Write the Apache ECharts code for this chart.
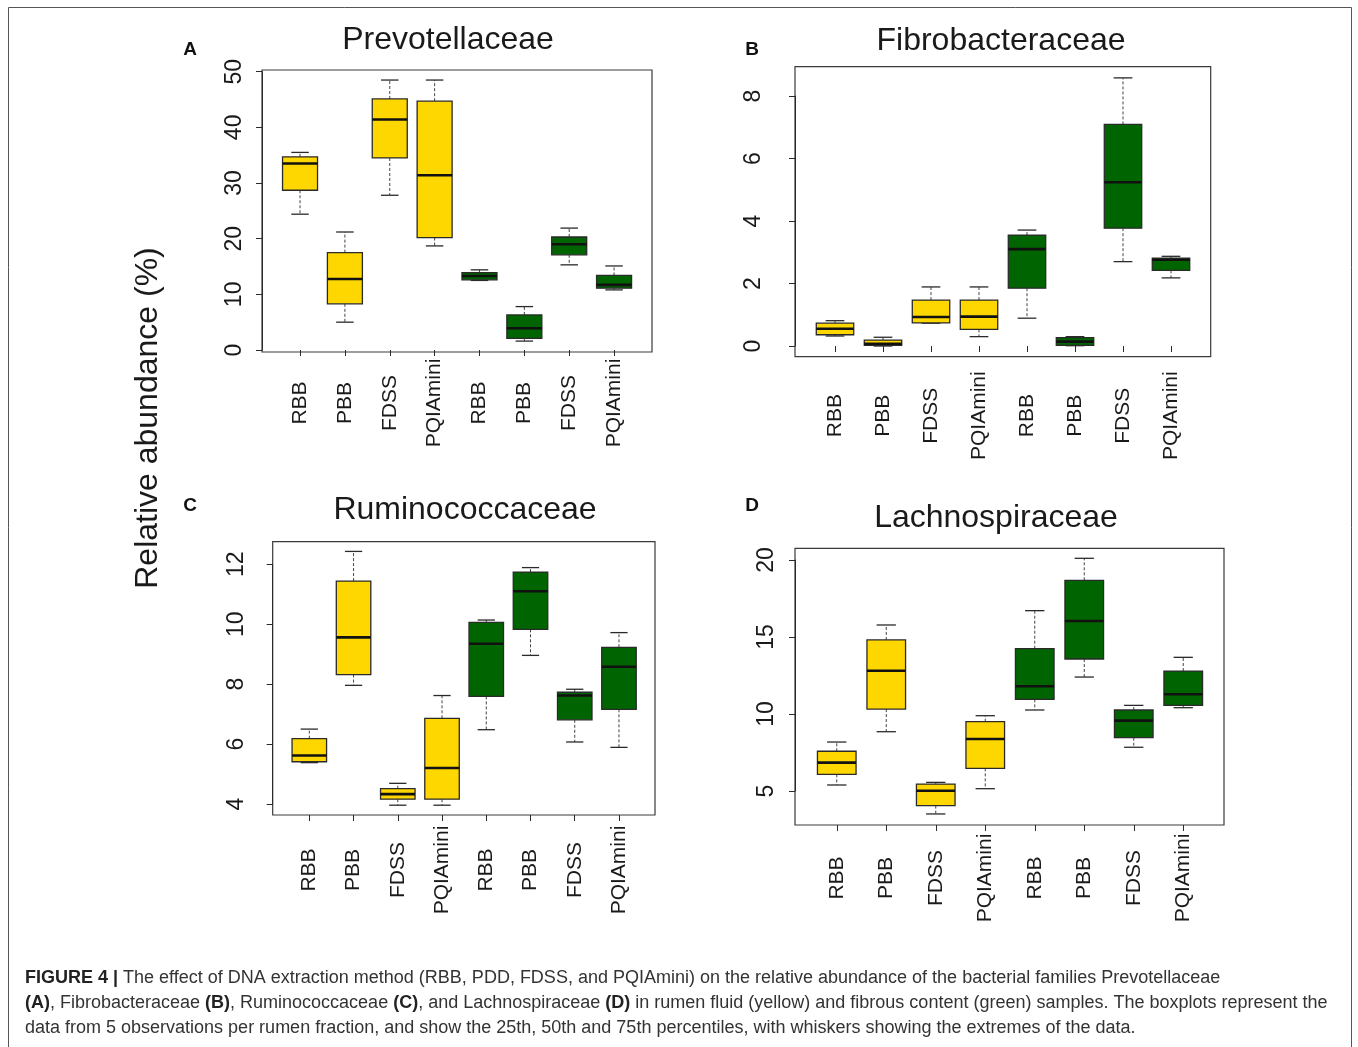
<!DOCTYPE html>
<html>
<head>
<meta charset="utf-8">
<title>Figure 4</title>
<script src="https://cdn.jsdelivr.net/npm/echarts@6/dist/echarts.min.js"></script>
<style>
  html, body { margin: 0; padding: 0; background: #fff; }
  #chart { width: 1358px; height: 1047px; }
</style>
</head>
<body>
<div id="chart"></div>
<script>
// x categories: 4 rumen fluid (yellow) + 4 fibrous content (green)
const categories = ["RBB", "PBB", "FDSS", "PQIAmini", "RBB", "PBB", "FDSS", "PQIAmini"];

// each row: [min, q1, median, q3, max]
const prevotellaceae = [
  [24.4, 28.7, 33.5, 34.7, 35.5],
  [5.0, 8.3, 12.75, 17.5, 21.2],
  [27.8, 34.5, 41.4, 45.1, 48.5],
  [18.7, 20.2, 31.4, 44.7, 48.5],
  [12.5, 12.6, 13.3, 13.9, 14.4],
  [1.6, 2.1, 3.9, 6.3, 7.8],
  [15.3, 17.1, 19.0, 20.3, 21.9],
  [10.8, 11.1, 11.7, 13.4, 15.1]
];
const fibrobacteraceae = [
  [0.32, 0.36, 0.55, 0.73, 0.81],
  [0.0, 0.02, 0.07, 0.19, 0.28],
  [0.73, 0.74, 0.93, 1.47, 1.89],
  [0.30, 0.53, 0.94, 1.47, 1.89],
  [0.89, 1.85, 3.10, 3.55, 3.71],
  [0.01, 0.02, 0.14, 0.27, 0.30],
  [2.70, 3.77, 5.24, 7.09, 8.58],
  [2.18, 2.42, 2.76, 2.81, 2.87]
];
const ruminococcaceae = [
  [5.38, 5.41, 5.62, 6.18, 6.50],
  [7.96, 8.32, 9.56, 11.44, 12.43],
  [3.96, 4.16, 4.33, 4.51, 4.69],
  [3.96, 4.16, 5.20, 6.86, 7.62],
  [6.48, 7.59, 9.35, 10.06, 10.14],
  [8.96, 9.83, 11.10, 11.74, 11.89],
  [6.07, 6.81, 7.62, 7.73, 7.83],
  [5.89, 7.16, 8.58, 9.23, 9.72]
];
const lachnospiraceae = [
  [5.39, 6.08, 6.84, 7.58, 8.18],
  [8.85, 10.32, 12.81, 14.81, 15.78],
  [3.51, 4.05, 5.02, 5.45, 5.56],
  [5.15, 6.47, 8.38, 9.50, 9.89],
  [10.26, 10.95, 11.80, 14.24, 16.71],
  [12.40, 13.57, 16.04, 18.68, 20.11],
  [7.84, 8.46, 9.57, 10.26, 10.56],
  [10.41, 10.56, 11.28, 12.79, 13.68]
];

// y tick ranges per panel: [min, max, interval]
const yTicksA = [0, 50, 10];
const yTicksB = [0, 8, 2];
const yTicksC = [4, 12, 2];
const yTicksD = [5, 20, 5];

const FONT = "'Liberation Sans', Arial, Helvetica, sans-serif";
const YELLOW = "#FFD700";
const GREEN = "#006400";
const INK = "#2a2a2a";

// layout of each panel (pixels)
const panels = [
  { name: "Prevotellaceae", letter: "A", rows: prevotellaceae, ticks: yTicksA,
    data: { left: 277.6, top: 71.7, width: 358.9, height: 278.3 },
    frame: { left: 262, top: 70, width: 390, height: 282 },
    yOff: 15.6, xOff: 2, yMargin: 16, xMargin: 51,
    title: [448, 40], letterPos: [190, 50] },
  { name: "Fibrobacteraceae", letter: "B", rows: fibrobacteraceae, ticks: yTicksB,
    data: { left: 811, top: 96, width: 384, height: 250 },
    frame: { left: 795, top: 66.7, width: 415.7, height: 290 },
    yOff: 16, xOff: 10.7, yMargin: 30, xMargin: 59,
    title: [1001, 41], letterPos: [752, 50] },
  { name: "Ruminococcaceae", letter: "C", rows: ruminococcaceae, ticks: yTicksC,
    data: { left: 287.2, top: 564.3, width: 353.9, height: 239.7 },
    frame: { left: 272.7, top: 541.7, width: 382.3, height: 273.3 },
    yOff: 14.5, xOff: 11, yMargin: 25, xMargin: 55,
    title: [465, 510], letterPos: [190, 506] },
  { name: "Lachnospiraceae", letter: "D", rows: lachnospiraceae, ticks: yTicksD,
    data: { left: 812, top: 560, width: 396, height: 231 },
    frame: { left: 795, top: 548.3, width: 429, height: 276.7 },
    yOff: 17, xOff: 34, yMargin: 17, xMargin: 53,
    title: [996, 518], letterPos: [752, 506] }
];

function renderBox(params, api) {
  const i = api.value(0);
  const lo = api.coord([i, api.value(1)]);
  const q1 = api.coord([i, api.value(2)]);
  const med = api.coord([i, api.value(3)]);
  const q3 = api.coord([i, api.value(4)]);
  const hi = api.coord([i, api.value(5)]);
  const band = api.size([1, 0])[0];
  const bw = band * 0.78;
  const cw = bw * 0.5;
  const x = lo[0];
  const fill = i < 4 ? YELLOW : GREEN;
  const dash = { stroke: "#444", lineWidth: 1, lineDash: [3, 2] };
  const solid = { stroke: INK, lineWidth: 1.3 };
  return {
    type: "group",
    children: [
      { type: "line", shape: { x1: x, y1: q3[1], x2: x, y2: hi[1] }, style: dash },
      { type: "line", shape: { x1: x, y1: q1[1], x2: x, y2: lo[1] }, style: dash },
      { type: "line", shape: { x1: x - cw / 2, y1: hi[1], x2: x + cw / 2, y2: hi[1] }, style: solid },
      { type: "line", shape: { x1: x - cw / 2, y1: lo[1], x2: x + cw / 2, y2: lo[1] }, style: solid },
      { type: "rect", shape: { x: x - bw / 2, y: q3[1], width: bw, height: q1[1] - q3[1] },
        style: { fill: fill, stroke: INK, lineWidth: 1.3 } },
      { type: "line", shape: { x1: x - bw / 2, y1: med[1], x2: x + bw / 2, y2: med[1] },
        style: { stroke: "#111", lineWidth: 2.6 } }
    ]
  };
}

const grid = [], xAxis = [], yAxis = [], series = [], graphic = [];

panels.forEach((p, k) => {
  grid.push(Object.assign({ containLabel: false }, p.data));
  xAxis.push({
    type: "category", gridIndex: k, data: categories, offset: p.xOff,
    axisLine: { show: false },
    axisTick: { show: true, alignWithLabel: true, length: 6, lineStyle: { color: INK } },
    axisLabel: { interval: 0, rotate: 90, align: "center", verticalAlign: "middle",
      margin: p.xMargin, fontSize: 21, fontFamily: FONT, color: "#1a1a1a" },
    splitLine: { show: false }
  });
  yAxis.push({
    type: "value", gridIndex: k, min: p.ticks[0], max: p.ticks[1], interval: p.ticks[2],
    offset: p.yOff,
    axisLine: { show: true, lineStyle: { color: INK, width: 1 } },
    axisTick: { show: true, length: 6, lineStyle: { color: INK } },
    axisLabel: { rotate: 90, margin: p.yMargin, fontSize: 23, fontFamily: FONT, color: "#1a1a1a" },
    splitLine: { show: false }
  });
  series.push({
    type: "custom", xAxisIndex: k, yAxisIndex: k,
    renderItem: renderBox,
    encode: { x: 0, y: [1, 2, 3, 4, 5] },
    data: p.rows.map((r, i) => [i].concat(r)),
    silent: true
  });

  graphic.push({ type: "text", x: p.title[0], y: p.title[1],
    style: { text: p.name, fontSize: 32, fontFamily: FONT, fill: "#1a1a1a",
      align: "center", verticalAlign: "middle" } });
  graphic.push({ type: "text", x: p.letterPos[0], y: p.letterPos[1],
    style: { text: p.letter, fontSize: 19, fontWeight: "bold", fontFamily: FONT, fill: "#111",
      align: "center", verticalAlign: "middle" } });
});

// panel frames as separate bordered grids
panels.forEach((p, k) => {
  const gi = panels.length + k;
  grid.push(Object.assign({ show: true, borderColor: "#3a3a3a", borderWidth: 1.2,
    backgroundColor: "transparent", z: 0 }, p.frame));
  xAxis.push({ type: "value", gridIndex: gi, show: false });
  yAxis.push({ type: "value", gridIndex: gi, show: false });
});

graphic.push({ type: "rect", shape: { x: 8.5, y: 7.5, width: 1343, height: 1060 },
  style: { fill: "none", stroke: "#555", lineWidth: 1 }, silent: true });
graphic.push({ type: "text", x: 148, y: 418, rotation: Math.PI / 2,
  style: { text: "Relative abundance (%)", fontSize: 32, fontFamily: FONT, fill: "#1a1a1a",
    align: "center", verticalAlign: "middle" } });
graphic.push({ type: "text", x: 25, y: 966,
  style: {
    text: "{b|FIGURE 4 |} The effect of DNA extraction method (RBB, PDD, FDSS, and PQIAmini) on the relative abundance of the bacterial families Prevotellaceae\n" +
      "{b|(A)}, Fibrobacteraceae {b|(B)}, Ruminococcaceae {b|(C)}, and Lachnospiraceae {b|(D)} in rumen fluid (yellow) and fibrous content (green) samples. The boxplots represent the\n" +
      "data from 5 observations per rumen fraction, and show the 25th, 50th and 75th percentiles, with whiskers showing the extremes of the data.",
    fontSize: 18, fontFamily: FONT, fill: "#333", lineHeight: 25,
    rich: { b: { fontWeight: "bold", fontSize: 18, fontFamily: FONT, fill: "#222", lineHeight: 25 } }
  } });

const chart = echarts.init(document.getElementById("chart"));
chart.setOption({
  backgroundColor: "#fff",
  animation: false,
  grid: grid,
  xAxis: xAxis,
  yAxis: yAxis,
  series: series,
  graphic: graphic
});
</script>
</body>
</html>
